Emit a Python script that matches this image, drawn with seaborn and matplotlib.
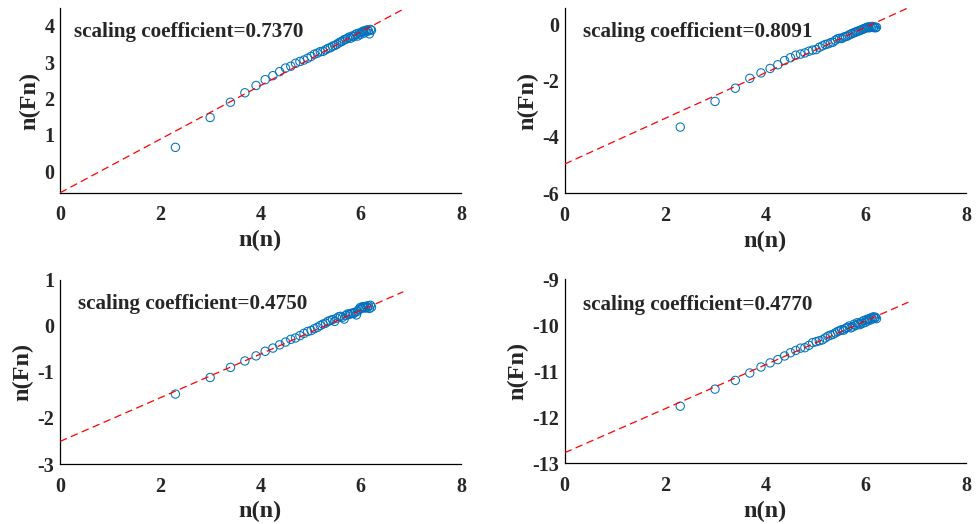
import numpy as np
import pandas as pd
import matplotlib
matplotlib.use("Agg")
import matplotlib.pyplot as plt
import seaborn as sns

# x values: ln(n)
ln_n = [2.303, 2.996, 3.401, 3.689, 3.912, 4.094, 4.248, 4.382, 4.500, 4.605,
        4.700, 4.787, 4.868, 4.942, 5.011, 5.075, 5.136, 5.193, 5.247, 5.298,
        5.347, 5.394, 5.438, 5.481, 5.521, 5.561, 5.598, 5.635, 5.670, 5.704,
        5.737, 5.768, 5.799, 5.829, 5.858, 5.886, 5.914, 5.940, 5.966, 5.991,
        6.016, 6.040, 6.064, 6.087, 6.109, 6.131, 6.153, 6.174, 6.194, 6.215]

ln_fn_1 = [0.66, 1.48, 1.90, 2.16, 2.36, 2.52, 2.63, 2.74, 2.84, 2.89,
           2.97, 3.02, 3.06, 3.11, 3.16, 3.22, 3.25, 3.29, 3.30, 3.34,
           3.38, 3.40, 3.44, 3.46, 3.49, 3.53, 3.56, 3.58, 3.62, 3.63,
           3.66, 3.69, 3.66, 3.72, 3.70, 3.75, 3.78, 3.72, 3.80, 3.76,
           3.82, 3.85, 3.80, 3.87, 3.84, 3.89, 3.86, 3.78, 3.90, 3.88]

ln_fn_2 = [-3.65, -2.74, -2.27, -1.92, -1.73, -1.57, -1.44, -1.29, -1.19, -1.10,
           -1.06, -1.02, -0.96, -0.92, -0.90, -0.82, -0.77, -0.72, -0.70, -0.66,
           -0.64, -0.57, -0.52, -0.50, -0.51, -0.46, -0.44, -0.42, -0.38, -0.35,
           -0.33, -0.30, -0.28, -0.26, -0.24, -0.22, -0.20, -0.18, -0.16, -0.14,
           -0.12, -0.10, -0.13, -0.09, -0.11, -0.08, -0.12, -0.10, -0.13, -0.11]

ln_fn_3 = [-1.48, -1.12, -0.90, -0.76, -0.65, -0.55, -0.48, -0.41, -0.35, -0.29,
           -0.26, -0.21, -0.16, -0.12, -0.10, -0.06, -0.03, 0.01, 0.04, 0.06,
           0.10, 0.12, 0.14, 0.10, 0.17, 0.20, 0.21, 0.19, 0.15, 0.23,
           0.26, 0.25, 0.27, 0.28, 0.27, 0.30, 0.24, 0.32, 0.36, 0.40,
           0.38, 0.42, 0.41, 0.39, 0.43, 0.40, 0.44, 0.38, 0.45, 0.41]

ln_fn_4 = [-11.76, -11.39, -11.20, -11.04, -10.91, -10.82, -10.75, -10.67, -10.60, -10.55,
           -10.50, -10.49, -10.44, -10.38, -10.36, -10.34, -10.32, -10.28, -10.24, -10.22,
           -10.20, -10.17, -10.14, -10.12, -10.10, -10.11, -10.07, -10.05, -10.02, -10.06,
           -10.04, -9.98, -10.01, -9.95, -9.97, -9.99, -9.93, -9.96, -9.90, -9.94,
           -9.88, -9.91, -9.86, -9.89, -9.84, -9.87, -9.82, -9.85, -9.83, -9.86]

coefficients = [0.7370, 0.8091, 0.4750, 0.4770]
intercepts = [-0.59, -4.96, -2.51, -12.77]
fit_x_range = [0.0, 6.85]

y_limits = [(-0.59, 4.48), (-6, 0.56), (-3, 1), (-13, -9)]
y_ticks = [[0, 1, 2, 3, 4], [-6, -4, -2, 0], [-3, -2, -1, 0, 1], [-13, -12, -11, -10, -9]]
x_ticks = [0, 2, 4, 6, 8]

series = [ln_fn_1, ln_fn_2, ln_fn_3, ln_fn_4]

sns.set_style("white")
plt.rcParams['font.family'] = ['Liberation Serif', 'DejaVu Serif']
plt.rcParams['font.weight'] = 'bold'

fig = plt.figure(figsize=(9.77, 5.24), dpi=100)
positions = [
    [0.0614, 0.632, 0.4104, 0.352],
    [0.578, 0.631, 0.4108, 0.353],
    [0.0614, 0.1145, 0.4104, 0.3512],
    [0.578, 0.1158, 0.4108, 0.3517],
]
text_pos = [(0.035, 0.87), (0.046, 0.873), (0.046, 0.867), (0.046, 0.859)]

blue = '#0072BD'
for i in range(4):
    ax = fig.add_axes(positions[i])
    df = pd.DataFrame({'x': ln_n, 'y': series[i]})
    sns.scatterplot(data=df, x='x', y='y', ax=ax, marker='o', s=36,
                    facecolor='none', edgecolor=blue, linewidth=0.75, zorder=2)
    fx = np.array(fit_x_range)
    fdf = pd.DataFrame({'x': fx, 'y': intercepts[i] + coefficients[i] * fx})
    sns.lineplot(data=fdf, x='x', y='y', ax=ax, color='red', linewidth=0.9,
                 dashes=False, zorder=3).lines[-1].set_dashes((6, 3.5))
    ax.set_xlim(0, 8)
    ax.set_ylim(*y_limits[i])
    ax.set_xticks(x_ticks)
    ax.set_yticks(y_ticks[i])
    ax.set_xticklabels([str(t) for t in x_ticks], fontsize=14.5, fontweight='bold')
    ax.set_yticklabels([str(t) for t in y_ticks[i]], fontsize=14.5, fontweight='bold')
    ax.tick_params(direction='in', length=3, width=0.8)
    ax.tick_params(axis='x', pad=9)
    ax.tick_params(axis='y', pad=4)
    for s in ['top', 'right']:
        ax.spines[s].set_visible(False)
    for s in ['left', 'bottom']:
        ax.spines[s].set_linewidth(0.9)
        ax.spines[s].set_color('black')
    ax.set_xlabel('n(n)', fontsize=17.5, fontweight='bold', labelpad=3.5)
    ax.set_ylabel('n(Fn)', fontsize=17.5, fontweight='bold', labelpad=3)
    ax.text(text_pos[i][0], text_pos[i][1], f'scaling coefficient={coefficients[i]:.4f}',
            transform=ax.transAxes, fontsize=15.2, fontweight='bold', va='center', ha='left')

fig.savefig('out.png', dpi=100)
